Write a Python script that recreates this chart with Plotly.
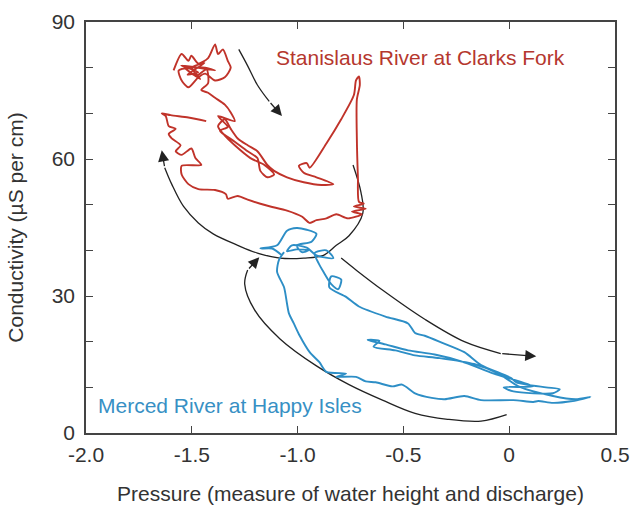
import plotly.graph_objects as go

# Stanislaus River at Clarks Fork: pressure vs specific conductance trace
stan_pressure = [
    -1.586, -1.548, -1.516, -1.502, -1.469, -1.423, -1.390, -1.376, -1.353, -1.330,
    -1.316, -1.344, -1.390, -1.437, -1.469, -1.516, -1.548, -1.562, -1.502, -1.437,
    -1.390, -1.55, -1.47, -1.52, -1.44, -1.50, -1.46, -1.53, -1.48, -1.43,
    -1.423, -1.455, -1.423,
    -1.390, -1.344, -1.316, -1.297, -1.376, -1.330, -1.367, -1.297, -1.236, -1.190,
    -1.176, -1.143, -1.111, -1.157, -1.223, -1.297, -1.344, -1.376, -1.344, -1.316,
    -1.283, -1.236, -1.190, -1.143, -1.111, -1.050, -0.971, -0.887, -0.831, -0.911,
    -0.971, -0.994, -0.957, -0.943, -0.864, -0.794, -0.734, -0.724, -0.710, -0.706,
    -0.720, -0.720, -0.715, -0.710, -0.687, -0.734, -0.678, -0.743, -0.697, -0.762,
    -0.817, -0.864, -0.911, -0.943, -0.980, -1.050, -1.129, -1.176, -1.236, -1.283,
    -1.330, -1.339, -1.390, -1.469, -1.516, -1.548, -1.548, -1.455, -1.483, -1.502,
    -1.548, -1.576, -1.553, -1.595, -1.609, -1.576, -1.609, -1.623, -1.642, -1.600,
    -1.516, -1.432,
]
stan_conductivity = [
    79.4, 83.0, 81.5, 82.6, 80.9, 82.1, 85.1, 83.0, 84.0, 81.5,
    80.0, 77.9, 77.2, 78.7, 77.9, 75.7, 77.2, 79.4, 80.0, 80.0,
    79.4, 80.5, 79.0, 78.5, 81.0, 80.0, 77.5, 79.8, 78.2, 79.6,
    76.6, 75.1, 74.5,
    73.4, 71.9, 70.2, 68.3, 69.4, 67.0, 66.2, 63.8, 61.7, 60.2,
    57.4, 56.0, 56.6, 58.7, 60.2, 63.0, 65.1, 67.2, 68.7, 66.6,
    64.5, 63.0, 61.7, 58.7, 57.4, 56.0, 54.9, 54.3, 54.5, 56.0,
    57.0, 58.5, 59.1, 58.1, 63.4, 68.7, 74.0, 77.2, 78.1, 76.2,
    73.0, 64.5, 56.0, 50.6, 50.2, 49.6, 49.1, 48.5, 47.9, 47.0,
    47.9, 47.0, 46.6, 46.0, 47.4, 48.7, 49.6, 50.2, 51.1, 51.9,
    51.3, 52.3, 53.2, 53.4, 54.5, 56.6, 58.5, 58.7, 60.2, 62.3,
    60.9, 61.7, 63.0, 64.5, 65.5, 66.6, 67.2, 69.4, 70.0, 69.6,
    69.1, 68.3,
]

# Merced River at Happy Isles
merced_pressure = [
    -1.074, -1.120, -1.176, -1.097, -1.050, -1.004, -0.957, -0.911, -0.934, -1.004,
    -0.980, -0.948, -1.004, -1.050, -1.027, -0.957, -0.911, -0.831, -0.864, -0.920,
    -0.901, -0.878, -0.841, -0.808, -0.794, -0.841, -0.850, -0.771, -0.710, -0.585,
    -0.478, -0.445, -0.399, -0.319, -0.212, -0.133, 0.007, 0.034, 0.174, 0.239,
    0.207, 0.020, -0.026, 0.114, -0.073, -0.226, -0.352, -0.478, -0.585, -0.655,
    -0.669, -0.613, -0.641, -0.538, -0.445, -0.329, -0.166, -0.049, 0.044, 0.207,
    0.314, 0.384, 0.300, 0.207, 0.137, 0.114, 0.020, -0.133, -0.212, -0.305,
    -0.366, -0.445, -0.506, -0.552, -0.631, -0.678, -0.724, -0.817, -0.771, -0.864,
    -0.897, -0.943, -0.990, -1.018, -1.041, -1.050, -1.064, -1.097, -1.088, -1.064,
]
merced_conductivity = [
    38.9, 40.4, 40.4, 41.1, 44.3, 44.9, 44.5, 43.6, 41.9, 41.1,
    39.6, 40.0, 40.2, 39.8, 41.1, 40.6, 38.9, 38.3, 40.0, 39.4,
    37.2, 35.3, 32.6, 31.5, 33.6, 34.3, 31.9, 29.8, 27.7, 25.5,
    24.0, 21.9, 21.3, 19.8, 17.7, 14.9, 12.1, 11.1, 10.0, 9.6,
    8.7, 9.1, 10.0, 10.2, 13.0, 15.7, 17.2, 18.1, 19.4, 20.2,
    20.4, 20.2, 18.9, 18.1, 17.0, 16.4, 15.1, 13.0, 10.2, 8.1,
    7.4, 7.9, 7.0, 6.6, 7.0, 6.8, 7.2, 7.2, 8.1, 7.4,
    7.7, 8.7, 10.6, 10.2, 11.1, 11.3, 12.3, 12.3, 13.0, 13.4,
    15.5, 17.7, 21.3, 24.0, 26.2, 28.3, 31.9, 35.3, 37.9, 39.6,
]

# Curved guide arrows showing the direction of travel around each loop
arrow_paths = [
    ([-1.278, -1.236, -1.190, -1.134, -1.074], [84.0, 80.4, 76.2, 72.6, 69.4]),
    ([-0.738, -0.701, -0.692, -0.757, -0.817, -0.878, -0.971, -1.083, -1.190, -1.283,
      -1.399, -1.469, -1.539, -1.595, -1.628, -1.642],
     [58.7, 52.8, 48.1, 43.2, 41.1, 38.9, 38.3, 38.3, 39.4, 41.1,
      43.6, 46.0, 49.6, 54.5, 58.1, 61.9]),
    ([-0.012, -0.133, -0.291, -0.445, -0.599, -0.757, -0.911, -1.083, -1.204, -1.250,
      -1.236, -1.181],
     [4.0, 2.6, 3.0, 4.3, 7.2, 10.6, 14.7, 20.6, 27.0, 32.6, 35.7, 38.5]),
    ([-0.794, -0.724, -0.599, -0.399, -0.212, -0.040, 0.128],
     [38.3, 35.7, 31.3, 24.9, 20.0, 17.4, 16.8]),
]

RED = "#c0332a"
BLUE = "#2d8ec6"
FONT = "Liberation Sans, Arial, sans-serif"

fig = go.Figure()

for xs, ys in arrow_paths:
    fig.add_trace(go.Scatter(
        x=xs[:-1], y=ys[:-1], mode="lines",
        line=dict(color="#222222", width=1.3, shape="spline", smoothing=1.0),
        hoverinfo="skip", showlegend=False,
    ))
    fig.add_annotation(
        x=xs[-1], y=ys[-1], ax=xs[-2], ay=ys[-2],
        xref="x", yref="y", axref="x", ayref="y",
        text="", showarrow=True, arrowhead=2, arrowsize=1.7,
        arrowwidth=1.3, arrowcolor="#222222",
    )

fig.add_trace(go.Scatter(
    x=stan_pressure, y=stan_conductivity, mode="lines",
    line=dict(color=RED, width=1.9, shape="spline", smoothing=0.7),
    name="Stanislaus River at Clarks Fork", showlegend=False,
))
fig.add_trace(go.Scatter(
    x=merced_pressure, y=merced_conductivity, mode="lines",
    line=dict(color=BLUE, width=1.9, shape="spline", smoothing=0.7),
    name="Merced River at Happy Isles", showlegend=False,
))

fig.add_annotation(x=-0.417, y=82.3, xref="x", yref="y", showarrow=False,
                   text="Stanislaus River at Clarks Fork",
                   font=dict(family=FONT, size=21, color="#b5372e"))
fig.add_annotation(x=-1.320, y=6.0, xref="x", yref="y", showarrow=False,
                   text="Merced River at Happy Isles",
                   font=dict(family=FONT, size=21, color="#3790c4"))

axis_common = dict(
    showgrid=False, zeroline=False, showline=True, linecolor="#444444",
    linewidth=1.5, mirror="ticks", ticks="inside", ticklen=7,
    tickwidth=1.3, tickcolor="#444444",
    tickfont=dict(family=FONT, size=21, color="#333333"),
)

fig.update_layout(
    width=640, height=512,
    margin=dict(l=86, r=17, t=10, b=79),
    paper_bgcolor="white", plot_bgcolor="white",
    xaxis=dict(
        range=[-2.0, 0.5], tickvals=[-2.0, -1.5, -1.0, -0.5, 0, 0.5],
        ticktext=["-2.0", "-1.5", "-1.0", "-0.5", "0", "0.5"],
        ticklabelstandoff=2,
        title=dict(text="Pressure (measure of water height and discharge)",
                   font=dict(family=FONT, size=21, color="#333333"), standoff=21),
        **axis_common,
    ),
    yaxis=dict(
        range=[0, 90], tickvals=[0, 30, 60, 90],
        ticklabelstandoff=5,
        minor=dict(dtick=10, ticks="inside", ticklen=7, tickwidth=1.3,
                   tickcolor="#444444"),
        title=dict(text="Conductivity (µS per cm)",
                   font=dict(family=FONT, size=21, color="#333333"), standoff=22),
        **axis_common,
    ),
)

fig.write_html("out.html")
